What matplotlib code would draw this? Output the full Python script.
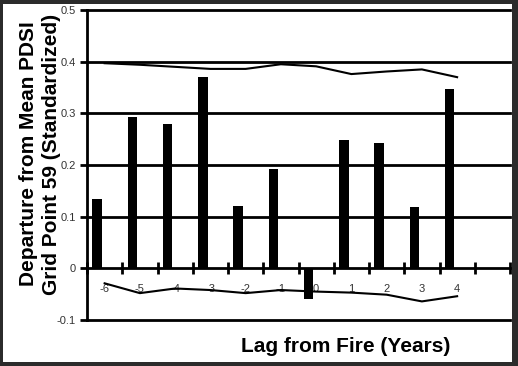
import matplotlib
matplotlib.use("Agg")
import matplotlib.pyplot as plt
import numpy as np
from matplotlib.patches import Rectangle

plt.rcParams['font.family'] = ['Liberation Sans', 'DejaVu Sans']

lags = ['-6', '-5', '-4', '-3', '-2', '-1', '0', '1', '2', '3', '4']
departure = [0.135, 0.293, 0.279, 0.370, 0.120, 0.193, -0.060, 0.248, 0.243, 0.119, 0.348]
upper_ci = [0.397, 0.394, 0.390, 0.386, 0.386, 0.395, 0.391, 0.376, 0.381, 0.385, 0.370]
lower_ci = [-0.029, -0.048, -0.039, -0.042, -0.048, -0.042, -0.045, -0.047, -0.051, -0.064, -0.054]
y_ticks = [-0.1, 0, 0.1, 0.2, 0.3, 0.4, 0.5]
y_tick_labels = ['-0.1', '0', '0.1', '0.2', '0.3', '0.4', '0.5']

W, H = 518, 366
fig = plt.figure(figsize=(W / 100, H / 100), dpi=100)
fig.patch.set_facecolor('#2b2b2b')
fig.patches.append(Rectangle((3 / W, 4 / H), (512 - 3) / W, (362 - 4) / H,
                             transform=fig.transFigure, facecolor='white',
                             edgecolor='none', zorder=-10))

ax = fig.add_axes([87 / W, (H - 320) / H, (510 - 87) / W, (320 - 10) / H])
ax.set_zorder(5)
ax.set_facecolor('none')

x = np.arange(len(lags))
n_slots = len(lags) + 1

ax.bar(x - 0.216, departure, width=0.27, color='black', zorder=3)
ax.plot(x, upper_ci, color='black', lw=1.5, zorder=4)
ax.plot(x, lower_ci, color='black', lw=1.5, zorder=4)

for v in y_ticks:
    if v != 0:
        ax.axhline(v, color='black', lw=2, clip_on=False, zorder=2)

ax.set_xlim(-0.5, n_slots - 0.5)
ax.set_ylim(-0.1, 0.5)

for s in ['top', 'right']:
    ax.spines[s].set_visible(False)
ax.spines['bottom'].set_position(('data', 0))
ax.spines['bottom'].set_linewidth(2)
ax.spines['bottom'].set_zorder(2)
ax.spines['left'].set_linewidth(2)

ax.set_xticks(np.arange(n_slots + 1) - 0.5)
ax.set_xticklabels([])
ax.tick_params(axis='x', which='major', direction='inout', length=9, width=2)
ax.set_xticks(x, minor=True)
ax.set_xticklabels(lags, minor=True)
ax.tick_params(axis='x', which='minor', length=0, pad=11.5, labelsize=8,
               labelcolor='#333333')

ax.set_yticks(y_ticks)
ax.set_yticklabels(y_tick_labels)
ax.tick_params(axis='y', direction='out', length=5, width=2, pad=3,
               labelsize=8, labelcolor='#333333')

fig.text(40 / W, 1 - 154 / H,
         'Departure from Mean PDSI\nGrid Point 59 (Standardized)',
         rotation=90, ha='center', va='center', multialignment='center',
         fontsize=15, fontweight='bold', linespacing=1.32)
fig.text(346 / W, 1 - 347 / H, 'Lag from Fire (Years)', ha='center',
         va='center', fontsize=15, fontweight='bold')

fig.savefig('out.png', dpi=100, facecolor=fig.get_facecolor())
